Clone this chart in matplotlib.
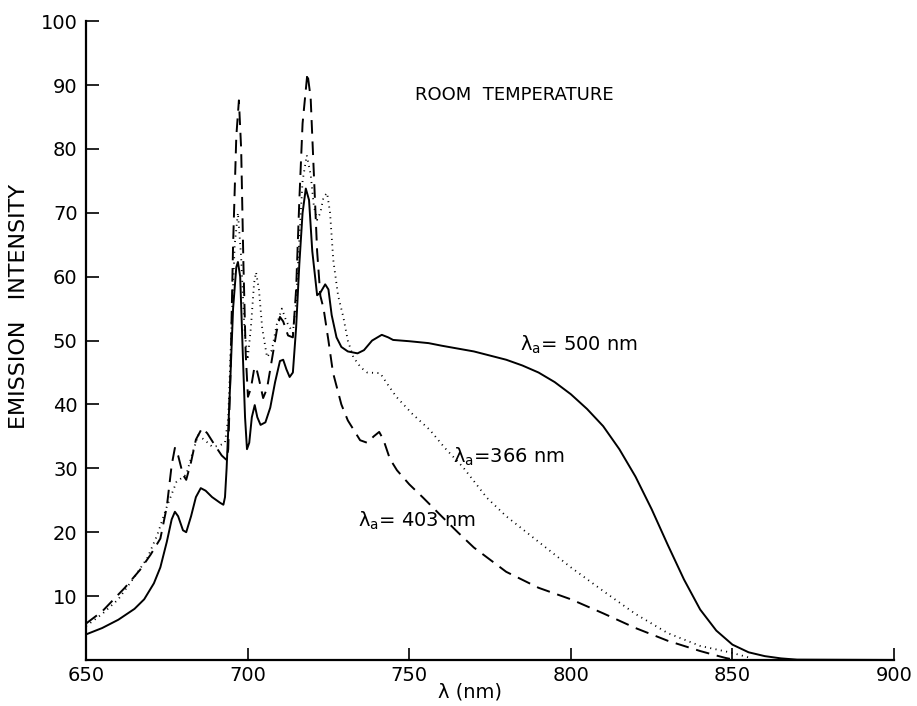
import matplotlib
matplotlib.use("Agg")
import matplotlib.pyplot as plt

##################################################
# Emission spectra at room temperature, three excitation wavelengths
##################################################

# lambda_a = 500 nm (solid)
wl_500 = [650, 655, 660, 665, 668, 671, 673, 675, 676.5, 677.5, 678.5, 680, 681,
          682.5, 684, 685.5, 687, 689, 691.5, 692.5, 693, 693.5, 694.5, 695.5,
          696.5, 697, 697.7, 698.5, 699.2, 699.8, 700.5, 701.3, 702.2, 703, 704,
          705.5, 707, 708.5, 710, 711, 712, 713, 714, 715, 716, 717, 718, 719,
          720, 721.5, 722.5, 724, 725, 726, 727.5, 729, 731, 734, 736, 738.5,
          741.5, 743.5, 745, 750, 756, 760, 770, 780, 785, 790, 795, 800, 805,
          810, 815, 820, 825, 830, 835, 840, 845, 850, 855, 860, 865, 870, 900]
em_500 = [4.0, 5.0, 6.3, 8.0, 9.5, 12.0, 14.5, 18.5, 22.0, 23.2, 22.5, 20.3, 20.0,
          22.5, 25.5, 26.9, 26.5, 25.5, 24.6, 24.3, 25.5, 30.0, 42.0, 55.0,
          61.5, 62.3, 60.0, 48.0, 38.0, 33.0, 34.0, 38.0, 39.9, 38.0, 36.8,
          37.2, 39.5, 43.5, 46.8, 47.0, 45.5, 44.3, 45.0, 52.0, 62.0, 70.0, 73.8, 72.0,
          64.0, 57.1, 57.5, 58.8, 58.0, 54.0, 50.5, 49.0, 48.3, 48.0, 48.5, 50.0,
          50.9, 50.5, 50.1, 49.9, 49.6, 49.2, 48.3, 47.0, 46.1, 45.0, 43.5, 41.6, 39.3,
          36.6, 33.0, 28.7, 23.6, 18.0, 12.6, 7.9, 4.6, 2.4, 1.2, 0.6, 0.25, 0.05, 0.0]

# lambda_a = 403 nm (dashed)
wl_403 = [650, 655, 658.4, 662, 666.7, 670, 673, 675, 676.5, 677.5, 678.5, 680, 681,
          682.5, 684, 685.9, 687.5, 690, 692, 693.5, 694, 694.7, 695.5, 696.5,
          697.3, 698, 698.7, 699.4, 700.1, 701, 702, 702.6, 703.5, 704.8, 706,
          707.5, 709, 710, 711, 712.5, 714, 715, 716, 717, 718.5, 719.5, 720.5,
          721.5, 722.5, 723.5, 725, 726.4, 729, 731, 734.8, 737, 739, 740.7, 742,
          744, 746.2, 750, 754.3, 760, 765, 770, 780, 790, 800, 810, 820, 830,
          840, 845, 848, 850]
em_403 = [5.7, 7.6, 9.4, 11.3, 14.1, 16.5, 19.0, 24.0, 30.5, 33.2, 32.0, 29.0, 28.2,
          31.0, 34.5, 36.3, 35.5, 33.5, 32.0, 31.3, 33.0, 45.0, 65.0, 82.0,
          87.6, 80.0, 62.0, 48.0, 41.2, 42.5, 45.5, 45.9, 44.0, 41.0, 42.5,
          47.0, 51.5, 53.7, 53.0, 50.8, 50.5, 58.0, 72.0, 84.0, 91.9, 88.0, 76.0,
          64.0, 57.0, 55.0, 50.0, 45.0, 40.0, 37.5, 34.4, 34.0, 35.0, 35.7, 34.5,
          31.5, 29.7, 27.5, 25.4, 22.5, 20.0, 17.6, 13.8, 11.3, 9.5, 7.3, 5.0, 3.0,
          1.4, 0.7, 0.3, 0.1]

# lambda_a = 366 nm (dotted)
wl_366 = [650, 655, 660, 665, 669, 672, 675, 678, 681, 683, 684.7, 687, 689, 691,
          693, 694, 695, 696, 697, 698, 699, 700, 701, 702, 702.6, 703.5, 704.5,
          706, 707.5, 709, 710.6, 712, 714, 715, 716, 717, 718.3, 719.5, 720.5,
          721.5, 722.5, 723.5, 724.6, 725.5, 726.5, 728, 729.6, 731, 732.7, 735,
          737, 741, 743.5, 746, 751, 756.4, 761, 766.6, 770, 774, 780, 790, 800,
          810, 820, 830, 840, 850, 855]
em_366 = [5.3, 7.2, 9.5, 13.0, 16.0, 19.5, 24.0, 27.9, 29.0, 32.5, 35.2, 34.3, 33.4,
          33.5, 34.0, 38.0, 52.0, 65.0, 70.0, 63.0, 52.0, 47.0, 52.0, 59.0, 60.7,
          58.0, 52.0, 47.4, 48.5, 52.5, 55.0, 53.0, 51.2, 56.0, 66.0, 75.0, 79.0,
          76.0, 71.0, 68.9, 70.0, 72.5, 73.1, 70.0, 62.6, 57.0, 53.7, 50.0, 47.4,
          45.8, 45.0, 44.9, 43.0, 41.2, 38.5, 36.0, 33.2, 30.2, 28.0, 25.4, 22.5,
          18.5, 14.5, 10.8, 7.2, 4.2, 2.2, 1.1, 0.4]

x_ticks = [650, 700, 750, 800, 850, 900]
y_ticks = [10, 20, 30, 40, 50, 60, 70, 80, 90, 100]

plt.rcParams["font.family"] = ["DejaVu Sans"]

fig = plt.figure(figsize=(9.17, 7.06), dpi=100)
ax = fig.add_axes([0.0938, 0.0652, 0.8812, 0.9048])

ax.plot(wl_500, em_500, color="black", lw=1.4, ls="-")
ax.plot(wl_403, em_403, color="black", lw=1.4, ls=(0, (7, 4)))
ax.plot(wl_366, em_366, color="black", lw=1.3, ls=(0, (0.6, 2.4)))

ax.set_xlim(650, 900)
ax.set_ylim(0, 100)
ax.set_xticks(x_ticks)
ax.set_yticks(y_ticks)
ax.tick_params(direction="in", length=9, width=1.2, labelsize=14)
ax.tick_params(axis="x", pad=4)
ax.tick_params(axis="y", pad=6)
ax.spines["top"].set_visible(False)
ax.spines["right"].set_visible(False)
ax.spines["left"].set_linewidth(1.6)
ax.spines["bottom"].set_linewidth(1.6)

ax.set_xlabel("λ (nm)", fontsize=14)
ax.xaxis.set_label_coords(0.475, -0.036)
ax.set_ylabel("EMISSION   INTENSITY", fontsize=16)
ax.yaxis.set_label_coords(-0.07, 0.553)

# annotations
ax.text(751.8, 88.4, "ROOM  TEMPERATURE", fontsize=13, va="center")
ax.text(784.3, 49.3, "λ$_{\\rm a}$= 500 nm", fontsize=14, va="center")
ax.text(763.6, 31.8, "λ$_{\\rm a}$=366 nm", fontsize=14, va="center")
ax.text(734.2, 21.8, "λ$_{\\rm a}$= 403 nm", fontsize=14, va="center")

fig.savefig("out.png", dpi=100)
